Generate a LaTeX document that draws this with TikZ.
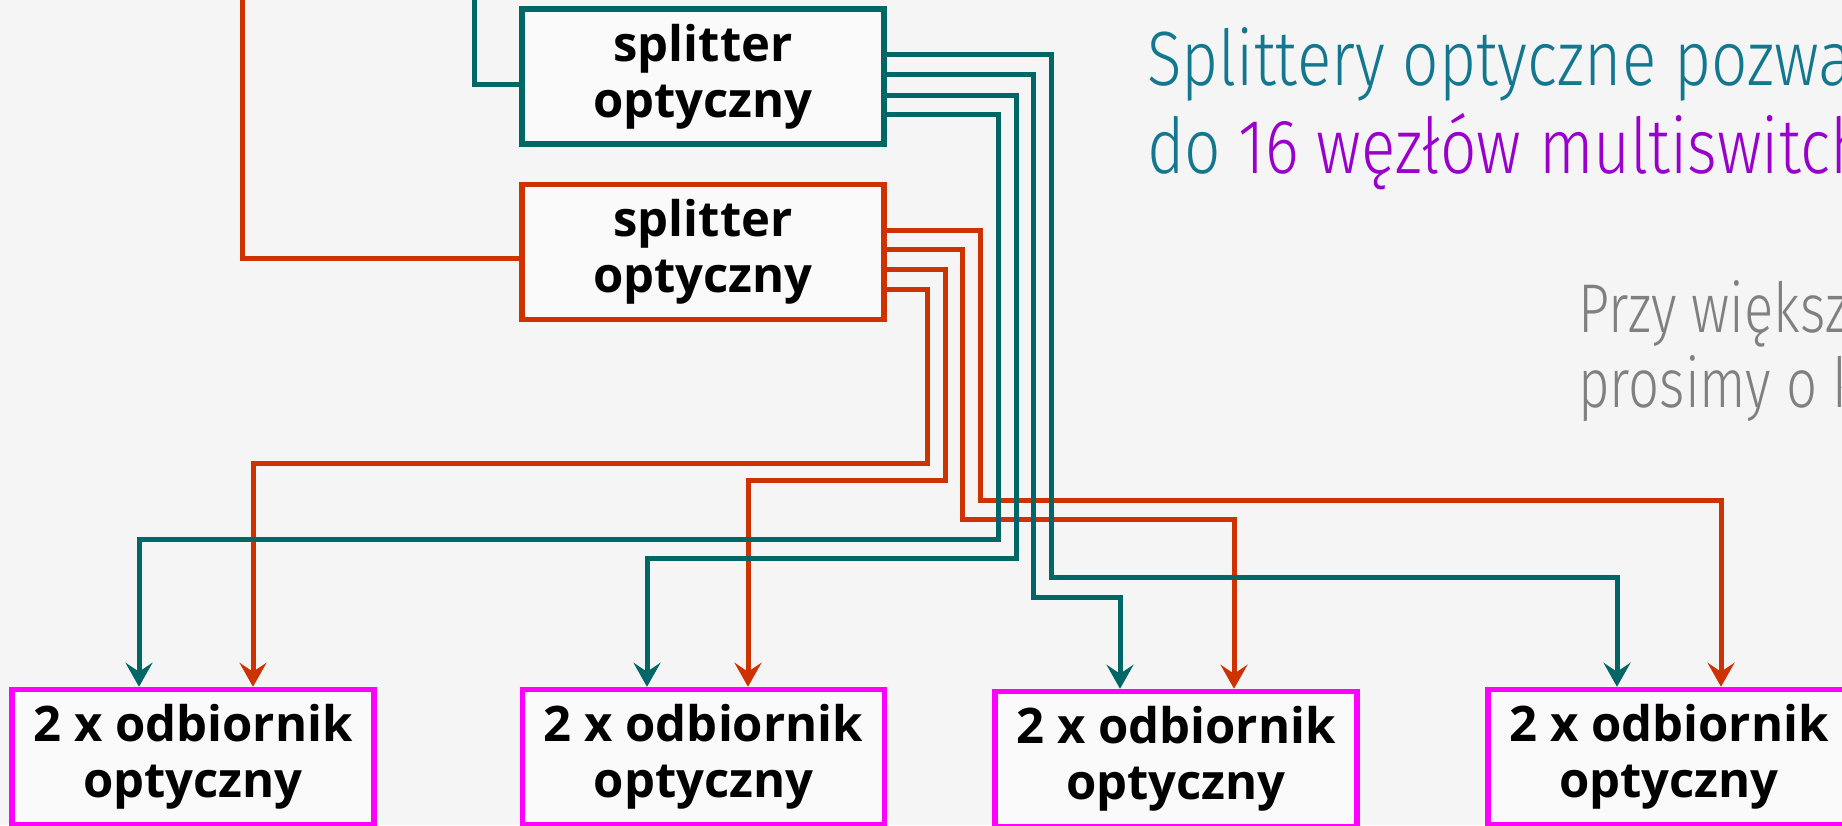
\documentclass[tikz,border=0pt]{standalone}
\usepackage{fontspec}
\usetikzlibrary{arrows.meta}

\newfontfamily\boxfont{Open Sans}
\newfontfamily\titlefont{Fira Sans Light}[FakeStretch=0.83]
\newfontfamily\notefont{Fira Sans Light}[FakeStretch=0.79]

\definecolor{fibreteal}{HTML}{006666}
\definecolor{fibrered}{HTML}{CC3300}
\definecolor{rxmagenta}{HTML}{FF00FF}
\definecolor{headteal}{HTML}{13788F}
\definecolor{headpurple}{HTML}{9900CC}
\definecolor{notegrey}{HTML}{808080}
\definecolor{paper}{HTML}{F5F5F5}
\definecolor{boxfill}{HTML}{FAFAFA}

\begin{document}
\begin{tikzpicture}[x=1pt, y=-1pt,
  unitbox/.style={draw, line width=5.5pt, fill=boxfill, minimum width=362pt,
    minimum height=135pt, inner sep=0pt, align=center,
    font=\boxfont\bfseries\fontsize{49}{56}\selectfont},
  fibre/.style={line width=5pt},
  tealfibre/.style={fibre, draw=fibreteal},
  redfibre/.style={fibre, draw=fibrered},
  tipped/.style={-{Stealth[length=24pt, width=27pt, inset=9pt]}},
  headline/.style={anchor=base west, inner sep=0pt, text=headteal,
    font=\titlefont\fontsize{77}{88}\selectfont},
  noteline/.style={anchor=base west, inner sep=0pt, text=notegrey,
    font=\notefont\fontsize{69}{75}\selectfont}
]
\useasboundingbox (0,0) rectangle (1842,825);
\fill[paper] (0,0) rectangle (1842,825);
\clip (0,0) rectangle (1842,825);

% splitters
\node[unitbox, draw=fibreteal] (ts) at (703,76.5) {splitter\\optyczny};
\node[unitbox, draw=fibrered]  (rs) at (703,252)  {splitter\\optyczny};

% receivers
\node[unitbox, draw=rxmagenta] (b1) at (193,757)   {2 x odbiornik\\optyczny};
\node[unitbox, draw=rxmagenta] (b2) at (703.5,757) {2 x odbiornik\\optyczny};
\node[unitbox, draw=rxmagenta] (b3) at (1176,759)  {2 x odbiornik\\optyczny};
\node[unitbox, draw=rxmagenta] (b4) at (1669,757)  {2 x odbiornik\\optyczny};

% feeds coming in from above
\coordinate (tin) at (474,-6);
\coordinate (rin) at (242,-6);
\draw[tealfibre] (tin) |- (ts.west |- 0,84);
\draw[redfibre]  (rin) |- (rs.west |- 0,258);

% red splitter outputs
\draw[redfibre, tipped] (rs.east |- 0,230) -| (980,500) -| (b4.north -| 1721,0);
\draw[redfibre, tipped] (rs.east |- 0,249) -| (962,519) -| (b3.north -| 1234,0);
\draw[redfibre, tipped] (rs.east |- 0,269) -| (945,480) -| (b2.north -| 748,0);
\draw[redfibre, tipped] (rs.east |- 0,289) -| (927,463) -| (b1.north -| 253,0);

% teal splitter outputs
\draw[tealfibre, tipped] (ts.east |- 0,54)  -| (1051,577) -| (b4.north -| 1617,0);
\draw[tealfibre, tipped] (ts.east |- 0,74)  -| (1033,597) -| (b3.north -| 1120,0);
\draw[tealfibre, tipped] (ts.east |- 0,95)  -| (1016,558) -| (b2.north -| 647,0);
\draw[tealfibre, tipped] (ts.east |- 0,114) -| (998,539)  -| (b1.north -| 139,0);

% headline and note
\node[headline] (head1) at (1147,85)  {Splittery optyczne pozwa};
\node[headline] (head2) at (1147,173) {do \textcolor{headpurple}{16 węzłów multiswitch}};
\node[noteline] (note1) at (1578,332) {Przy większ};
\node[noteline] (note2) at (1578,407) {prosimy o k};
\end{tikzpicture}
\end{document}
